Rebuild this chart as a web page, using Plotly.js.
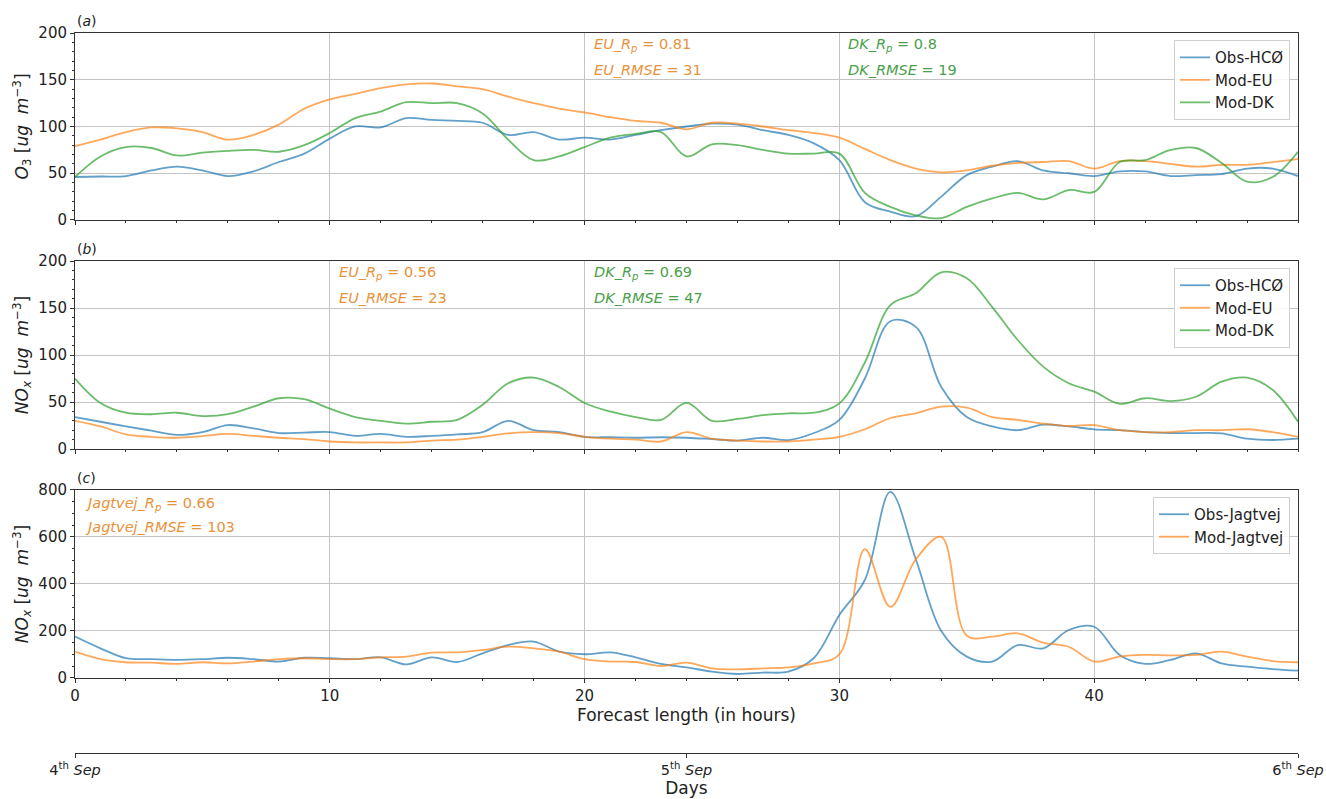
<!DOCTYPE html>
<html>
<head>
<meta charset="utf-8">
<script src="https://cdn.plot.ly/plotly-3.0.1.min.js"></script>
<style>html,body{margin:0;padding:0;background:#fff;}#chart{width:1326px;height:799px;}</style>
</head>
<body>
<div id="chart"></div>
<script>
// ---- data (forecast hour 0..48) ----
const hours = [0,1,2,3,4,5,6,7,8,9,10,11,12,13,14,15,16,17,18,19,20,21,22,23,24,25,26,27,28,29,30,31,32,33,34,35,36,37,38,39,40,41,42,43,44,45,46,47,48];

// Panel (a) O3
const o3Obs = [46,46.5,47,53,57,53,47,52,62,71,87,100,99,109,107,106,104,91,94,86,88,86,91,96,100,103,102,96,91,82,64,19,9,4,25,48,57,63,53,50,47,52,52,47,48,49,55,55,47];
const o3EU  = [79,86,94,99,98,94,86,91,102,119,129,135,141,145,146,143,140,132,125,119,115,110,106,104,97,104,103,100,96,93,88,76,64,55,51,53,58,61,62,63,55,63,63,60,57,59,59,62,65];
const o3DK  = [46,68,78,77,69,72,74,75,73,80,93,109,116,126,125,125,114,86,64,68,78,88,92,94,68,81,80,75,71,71,71,29,14,5,2,14,23,29,22,32,30,62,64,75,77,61,41,46,73];

// Panel (b) NOx at HCØ
const noxObs = [34,29,24,19.5,15,18,25.5,22,17,17.5,18,14,16,13,14,15.6,18,30,20,18,13,12.5,12,12.5,12,10.6,9,12,9.5,17,31,75,136,130,66,34,24,20,26,24,21,20,18,17,17,16.6,11,9.6,11];
const noxEU  = [30,24,15.6,13,12,13.8,16,14,12,10.6,8,7,7,7,9,10,13,16.7,18,17,13,11,10,8,18,11,9,8,8,10,13,21,33,38,45,44,34,31,27,24.5,25.5,20,18,18,20,20,21,18,13];
const noxDK  = [75,49,38.6,37,38.6,35,37,45,54,53,43,34,30,27,29,31,47,70,76,66,49,40,34,31,49,30,32,36,38,38.6,48.6,92,153,165.6,188,181.6,151,116,87.6,70,61,48,54,51,55.6,71.6,76,63,29];

// Panel (c) NOx at Jagtvej
const jagObs = [176,126,84,80,77,80,86,80,70,86,84,80,88,58,88,68,105,140,155,112,101,109,88,60,45,27,17,23,27,85,268,417,792,505,200,91,70,140,126,204,218,98,60,77,105,62,48,38,31];
const jagMod = [112,80,67,65,60,67,62,70,80,84,80,80,88,91,108,109,119,133,126,112,80,70,68,51,65,41,37,41,45,62,100,548,303,505,600,180,176,190,150,133,70,91,98,96,98,112,91,72,67];

// tick labels / texts
const hourTicks = [0,10,20,30,40];
const dayTickVals = [0,24,48];
const dayTickText = ['4<sup>th</sup> <i>Sep</i>','5<sup>th</sup> <i>Sep</i>','6<sup>th</sup> <i>Sep</i>'];
const namesA = ['Obs-HCØ','Mod-EU','Mod-DK'];
const namesC = ['Obs-Jagtvej','Mod-Jagtvej'];

// ---- styling ----
const FONT = 'DejaVu Sans, sans-serif';
const C_BLUE = 'rgba(31,119,180,0.70)';
const C_ORANGE = 'rgba(255,127,14,0.68)';
const C_GREEN = 'rgba(44,160,44,0.70)';
const T_ORANGE = '#e8923a';
const T_GREEN = '#48a048';
const LW = 1.8;

function tr(y, name, color, xa, ya, leg) {
  return {x: hours, y: y, name: name, type: 'scatter', mode: 'lines',
          line: {color: color, width: LW, shape: 'spline', smoothing: 1},
          xaxis: xa, yaxis: ya, legend: leg, hoverinfo: 'skip'};
}

const traces = [
  tr(o3Obs, namesA[0], C_BLUE, 'x', 'y', 'legend'),
  tr(o3EU,  namesA[1], C_ORANGE, 'x', 'y', 'legend'),
  tr(o3DK,  namesA[2], C_GREEN, 'x', 'y', 'legend'),
  tr(noxObs, namesA[0], C_BLUE, 'x2', 'y2', 'legend2'),
  tr(noxEU,  namesA[1], C_ORANGE, 'x2', 'y2', 'legend2'),
  tr(noxDK,  namesA[2], C_GREEN, 'x2', 'y2', 'legend2'),
  tr(jagObs, namesC[0], C_BLUE, 'x3', 'y3', 'legend3'),
  tr(jagMod, namesC[1], C_ORANGE, 'x3', 'y3', 'legend3'),
  {x: [], y: [], xaxis: 'x4', yaxis: 'y4', type: 'scatter', mode: 'lines', showlegend: false, hoverinfo: 'skip'}
];

const axCommon = {
  showline: true, linecolor: '#333', linewidth: 1, mirror: true,
  ticks: 'outside', ticklen: 4, tickwidth: 1, tickcolor: '#333',
  showgrid: true, gridcolor: '#c4c4c4', gridwidth: 1, zeroline: false,
  tickfont: {family: FONT, size: 15, color: '#222'}
};
function xAx(anchor, labels) {
  return Object.assign({}, axCommon, {
    anchor: anchor, domain: [0, 1], range: [0, 48], tickmode: 'array', tickvals: hourTicks,
    showticklabels: labels,
    minor: {ticks: 'outside', tickmode: 'linear', tick0: 0, dtick: 2, ticklen: 2, tickcolor: '#333', showgrid: false}
  });
}
function yAx(anchor, domain, max, dt, mdt, title) {
  return Object.assign({}, axCommon, {
    anchor: anchor, domain: domain, range: [0, max], tickmode: 'linear', tick0: 0, dtick: dt,
    minor: {ticks: 'outside', tickmode: 'linear', tick0: 0, dtick: mdt, ticklen: 2, tickcolor: '#333', showgrid: false},
    title: {text: title, font: {family: FONT, size: 17, color: '#222'}, standoff: 5},
    automargin: false
  });
}

const unit = ' [<i>ug</i>  <i>m</i><sup>−3</sup>]';
const legCommon = {xanchor: 'right', yanchor: 'top', bgcolor: 'rgba(255,255,255,0.85)',
  bordercolor: '#d0d0d0', borderwidth: 1, font: {family: FONT, size: 15, color: '#222'},
  itemwidth: 30, tracegroupgap: 0};

function ann(xh, ref, yd, text, color) {
  return {x: xh, xref: 'x', y: yd, yref: ref + ' domain', xanchor: 'left', yanchor: 'middle',
          text: text, showarrow: false, font: {family: FONT, size: 14.5, color: color}};
}
function plabel(ref, text) {
  return {x: 0, xref: 'x domain', y: 1, yref: ref + ' domain', xanchor: 'left', yanchor: 'bottom',
          text: text, showarrow: false, yshift: 2, font: {family: FONT, size: 14, color: '#222'}};
}

const layout = {
  width: 1326, height: 799,
  margin: {l: 75, r: 28, t: 33, b: 46},
  paper_bgcolor: '#fff', plot_bgcolor: '#fff',
  font: {family: FONT, size: 15, color: '#222'},
  xaxis: xAx('y', false),
  xaxis2: xAx('y2', false),
  xaxis3: Object.assign(xAx('y3', true), {
    title: {text: 'Forecast length (in hours)', font: {family: FONT, size: 17, color: '#222'}, standoff: 4}
  }),
  xaxis4: {anchor: 'y4', domain: [0, 1], range: [0, 48], showline: true, linecolor: '#333', linewidth: 1,
    mirror: false, ticks: 'outside', ticklen: 4, tickcolor: '#333', showgrid: false, zeroline: false,
    tickmode: 'array', tickvals: dayTickVals, ticktext: dayTickText,
    tickfont: {family: FONT, size: 14.5, color: '#222'},
    title: {text: 'Days', font: {family: FONT, size: 17, color: '#222'}, standoff: 3}},
  yaxis: yAx('x', [0.7403, 1], 200, 50, 10, '<i>O</i><sub>3</sub>' + unit),
  yaxis2: yAx('x2', [0.4222, 0.6833], 200, 50, 10, '<i>NO</i><sub><i>x</i></sub>' + unit),
  yaxis3: yAx('x3', [0.1042, 0.3653], 800, 200, 50, '<i>NO</i><sub><i>x</i></sub>' + unit),
  yaxis4: {anchor: 'x4', domain: [0, 0.001], visible: false, range: [0, 1]},
  legend: Object.assign({}, legCommon, {x: 0.9935, y: 0.990}),
  legend2: Object.assign({}, legCommon, {x: 0.9935, y: 0.6736}),
  legend3: Object.assign({}, legCommon, {x: 0.9935, y: 0.3556}),
  annotations: [
    plabel('y', '(<i>a</i>)'), plabel('y2', '(<i>b</i>)'), plabel('y3', '(<i>c</i>)'),
    ann(20.3, 'y', 0.936, '<i>EU_R</i><sub><i>p</i></sub> = 0.81', T_ORANGE),
    ann(20.3, 'y', 0.802, '<i>EU_RMSE</i> = 31', T_ORANGE),
    ann(30.26, 'y', 0.936, '<i>DK_R</i><sub><i>p</i></sub> = 0.8', T_GREEN),
    ann(30.26, 'y', 0.802, '<i>DK_RMSE</i> = 19', T_GREEN),
    ann(10.3, 'y2', 0.936, '<i>EU_R</i><sub><i>p</i></sub> = 0.56', T_ORANGE),
    ann(10.3, 'y2', 0.803, '<i>EU_RMSE</i> = 23', T_ORANGE),
    ann(20.3, 'y2', 0.936, '<i>DK_R</i><sub><i>p</i></sub> = 0.69', T_GREEN),
    ann(20.3, 'y2', 0.803, '<i>DK_RMSE</i> = 47', T_GREEN),
    ann(0.3, 'y3', 0.926, '<i>Jagtvej_R</i><sub><i>p</i></sub> = 0.66', T_ORANGE),
    ann(0.3, 'y3', 0.803, '<i>Jagtvej_RMSE</i> = 103', T_ORANGE)
  ]
};

Plotly.newPlot('chart', traces, layout, {displayModeBar: false, staticPlot: true});
</script>
</body>
</html>
